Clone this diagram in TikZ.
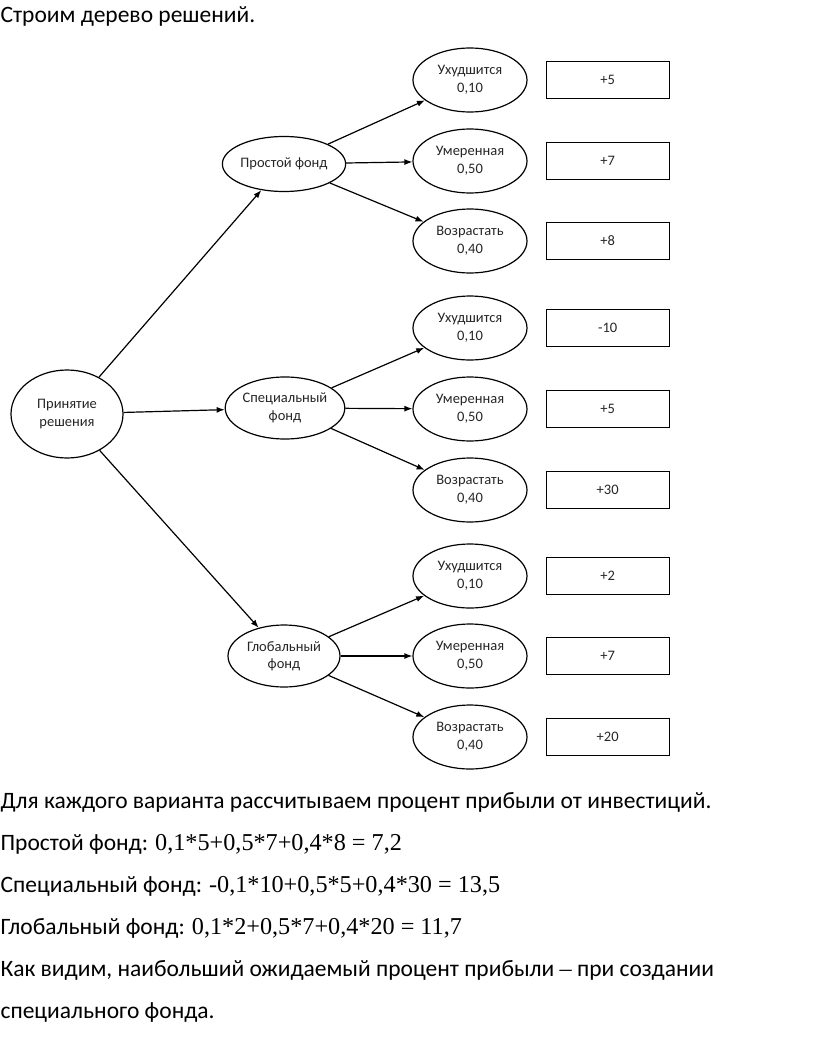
\documentclass[tikz,border=0pt]{standalone}
\usepackage{fontspec}
\setmainfont{Carlito}
\newfontfamily\numfont[Scale=1.03]{Liberation Serif}
\usetikzlibrary{arrows.meta,positioning,shapes.geometric}

\begin{document}
\begin{tikzpicture}[x=1pt,y=-1pt,node distance=18pt,>={Latex[length=8pt,width=6pt]},line width=1.2pt,every node/.style={font=\fontsize{14.5}{17.5}\selectfont,align=center,text=black!85},oval/.style={draw,ellipse,inner sep=0pt,minimum width=112pt,minimum height=62pt},leaf/.style={oval,minimum width=114pt,minimum height=64pt},payoff/.style={draw,rectangle,minimum width=123pt,minimum height=37pt,inner sep=0pt},line/.style={font=\fontsize{23.5}{28}\selectfont,anchor=west,inner sep=0pt,text=black}]
\useasboundingbox (0,0) rectangle (816,1046);
\node[line] (title) at (0,16) {Строим дерево решений.};
% tree
\node[oval,minimum width=112pt,minimum height=88pt] (root) at (67,414) {Принятие\\решения};
\node[oval,minimum height=55pt] (simple) at (284,164) {Простой фонд};
\node[oval] (special) at (285,408) {Специальный\\фонд};
\node[oval] (global) at (284,656) {Глобальный\\фонд};
\node[leaf] (s1) at (470,80) {Ухудшится\\0,10};
\node[leaf] (s2) at (470,161) {Умеренная\\0,50};
\node[leaf] (s3) at (470,241) {Возрастать\\0,40};
\node[leaf] (p1) at (470,328) {Ухудшится\\0,10};
\node[leaf] (p2) at (470,409) {Умеренная\\0,50};
\node[leaf] (p3) at (470,490) {Возрастать\\0,40};
\node[leaf] (g1) at (470,576) {Ухудшится\\0,10};
\node[leaf] (g2) at (470,656) {Умеренная\\0,50};
\node[leaf] (g3) at (470,737) {Возрастать\\0,40};
\node[payoff,right=of s1] (vs1) {+5};
\node[payoff,right=of s2] (vs2) {+7};
\node[payoff,right=of s3] (vs3) {+8};
\node[payoff,right=of p1] (vp1) {-10};
\node[payoff,right=of p2] (vp2) {+5};
\node[payoff,right=of p3] (vp3) {+30};
\node[payoff,right=of g1] (vg1) {+2};
\node[payoff,right=of g2] (vg2) {+7};
\node[payoff,right=of g3] (vg3) {+20};
\draw[->] (root)--(simple);\draw[->] (root)--(special);\draw[->] (root)--(global);
\draw[->] (simple)--(s1);\draw[->] (simple)--(s2);\draw[->] (simple)--(s3);
\draw[->] (special)--(p1);\draw[->] (special)--(p2);\draw[->] (special)--(p3);
\draw[->] (global)--(g1);\draw[->] (global)--(g2);\draw[->] (global)--(g3);
% calculation
\node[line] (t1) at (0,802) {Для каждого варианта рассчитываем процент прибыли от инвестиций.};
\node[line] (t2) at (0,844) {Простой фонд: {\numfont 0,1*5+0,5*7+0,4*8 = 7,2}};
\node[line] (t3) at (0,886) {Специальный фонд: {\numfont -0,1*10+0,5*5+0,4*30 = 13,5}};
\node[line] (t4) at (0,928) {Глобальный фонд: {\numfont 0,1*2+0,5*7+0,4*20 = 11,7}};
\node[line] (t5) at (0,970) {Как видим, наибольший ожидаемый процент прибыли {\numfont –} при создании};
\node[line] (t6) at (0,1012) {специального фонда.};
\end{tikzpicture}
\end{document}
